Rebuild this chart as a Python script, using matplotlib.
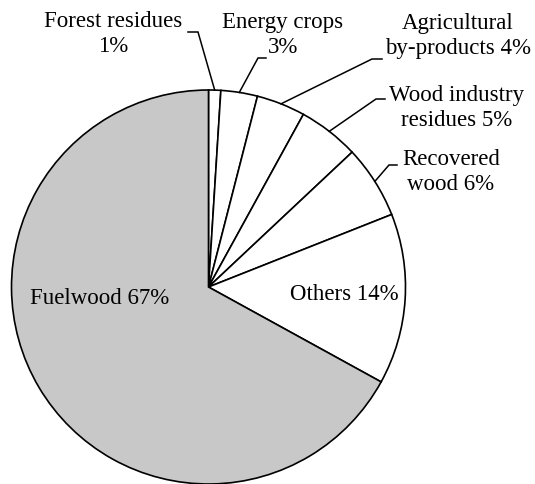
import numpy as np
import matplotlib
matplotlib.use("Agg")
import matplotlib.pyplot as plt

# Biomass sources share (%), clockwise from 12 o'clock
categories = ["Forest residues", "Energy crops", "Agricultural by-products",
              "Wood industry residues", "Recovered wood", "Others", "Fuelwood"]
shares = [1, 3, 4, 5, 6, 14, 67]
label_texts = ["Forest residues\n1%", "Energy crops\n3%", "Agricultural\nby-products 4%",
               "Wood industry\nresidues 5%", "Recovered\nwood 6%", "Others 14%", "Fuelwood 67%"]

W, H = 535, 484
fig = plt.figure(figsize=(W / 100, H / 100), dpi=100)
ax = fig.add_axes([0, 0, 1, 1])

def px(x, y):
    return (x, H - y)

center = px(208.5, 287)
radius = 197
colors = ["white"] * 6 + ["#c8c8c8"]

wedges, _ = ax.pie(shares, colors=colors, startangle=90, counterclock=False,
                   center=center, radius=radius, frame=True,
                   wedgeprops=dict(edgecolor="black", linewidth=1.2))
ax.set_xlim(0, W)
ax.set_ylim(0, H)
ax.set_aspect("equal")
ax.axis("off")

font = dict(family="Liberation Serif", fontsize=16.5, color="black")

# label anchor (text centre), leader elbow and end of the short horizontal tick
label_pos = [px(113, 34), px(283, 35), px(458, 36), px(457, 108), px(451, 172),
             px(344, 295), px(100, 299)]
elbows = [px(198, 32), px(258, 58), px(372, 59), px(376, 99), px(389, 165), None, None]
ticks = [px(188, 32), px(266, 58), px(382, 59), px(385, 99), px(397, 165), None, None]

for w, txt, lp, el, tk in zip(wedges, label_texts, label_pos, elbows, ticks):
    ax.text(lp[0], lp[1], txt, ha="center", va="center", multialignment="center",
            linespacing=1.25, **font)
    if el is not None:
        mid = np.deg2rad((w.theta1 + w.theta2) / 2)
        edge = (center[0] + radius * np.cos(mid), center[1] + radius * np.sin(mid))
        ax.plot([edge[0], el[0], tk[0]], [edge[1], el[1], tk[1]],
                color="black", lw=1.1, solid_joinstyle="miter")

fig.savefig("out.png", dpi=100)
